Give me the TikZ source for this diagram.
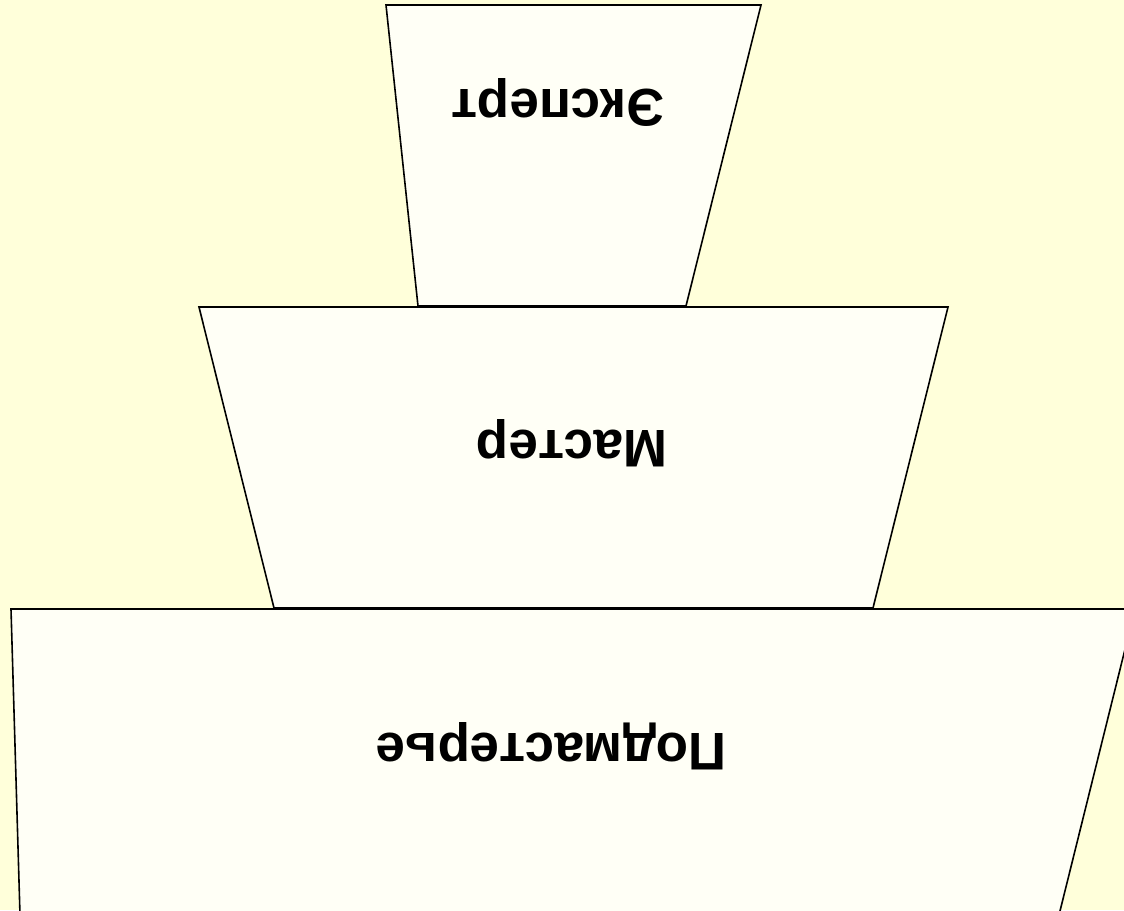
\documentclass[tikz,border=0pt]{standalone}
\usepackage{fontspec}
\setmainfont{Liberation Sans}
\definecolor{paper}{HTML}{FFFFDA}
\definecolor{level}{HTML}{FFFFF6}

\begin{document}
\begin{tikzpicture}[x=1pt, y=-1pt,
  tier/.style = {draw=black, fill=level, line width=1.6pt, line join=miter},
  caption/.style = {rotate=180, anchor=base, inner sep=0pt,
    font=\bfseries\fontsize{53}{60}\selectfont}]
  \useasboundingbox (0,0) rectangle (1124,910);
  \fill[paper] (0,0) rectangle (1124,910);
  \clip (0,0) rectangle (1124,910);
  % levels, top to bottom
  \draw[tier] (386,5) -- (761,5) -- (686,306) -- (418,306) -- cycle;
  \draw[tier] (199,307) -- (948,307) -- (873,608) -- (274,608) -- cycle;
  \draw[tier] (11,609) -- (1135,609) -- (1059,915) -- (20,915) -- cycle;
  % captions, upside down
  \node[caption] (expert) at (558,89) {Эксперт};
  \node[caption] (master) at (572,430) {Мастер};
  \node[caption] (apprentice) at (551,733) {Подмастерье};
\end{tikzpicture}
\end{document}
